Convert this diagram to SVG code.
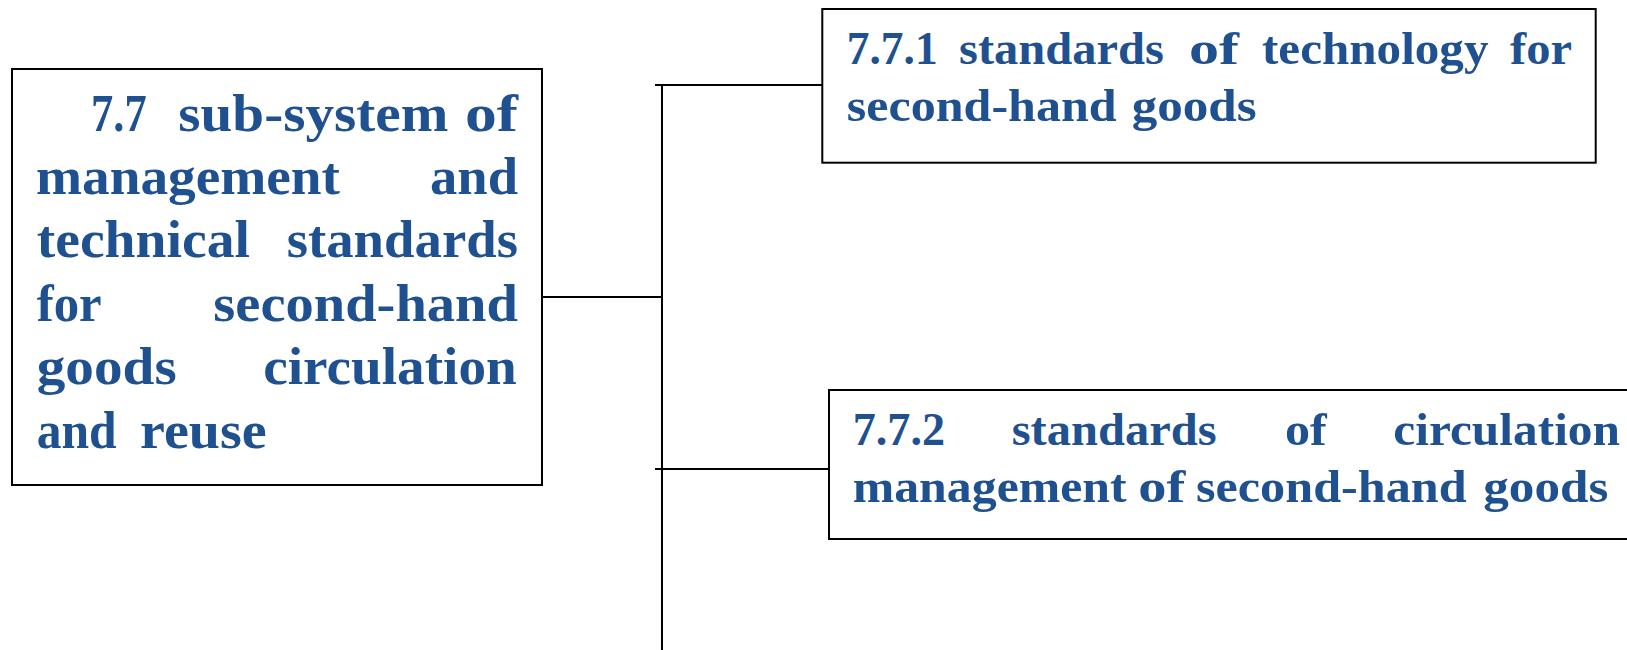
<svg xmlns="http://www.w3.org/2000/svg" width="1627" height="650" viewBox="0 0 1627 650">
<style>
.box{fill:#ffffff;stroke:#000000;stroke-width:2}
.ln{stroke:#000000;stroke-width:2;fill:none}
.t{font-family:"Liberation Serif","Times New Roman",serif;font-weight:bold;fill:#1f5190}
.big{font-size:52px}
.sm{font-size:47px}
</style>
<rect width="1627" height="650" fill="#ffffff"/>
<g id="connectors">
<line class="ln" x1="662" y1="85" x2="662" y2="650"/>
<line class="ln" x1="655" y1="85" x2="822" y2="85"/>
<line class="ln" x1="538" y1="297" x2="662" y2="297"/>
<line class="ln" x1="655" y1="469" x2="829" y2="469"/>
</g>
<g id="node-7-7">
<rect class="box" x="12" y="69" width="530" height="416"/>
<g class="t big">
<text x="91" y="130.6" textLength="55.7" lengthAdjust="spacingAndGlyphs">7.7</text>
<text x="178.3" y="130.6" textLength="270" lengthAdjust="spacingAndGlyphs">sub-system</text>
<text x="465" y="130.6" textLength="53" lengthAdjust="spacingAndGlyphs">of</text>
<text x="36" y="194" textLength="304" lengthAdjust="spacingAndGlyphs">management</text>
<text x="430" y="194" textLength="88" lengthAdjust="spacingAndGlyphs">and</text>
<text x="36.7" y="257.4" textLength="213.3" lengthAdjust="spacingAndGlyphs">technical</text>
<text x="286.7" y="257.4" textLength="231.3" lengthAdjust="spacingAndGlyphs">standards</text>
<text x="36.7" y="320.8" textLength="65" lengthAdjust="spacingAndGlyphs">for</text>
<text x="213.3" y="320.8" textLength="304.7" lengthAdjust="spacingAndGlyphs">second-hand</text>
<text x="36.7" y="384.2" textLength="140" lengthAdjust="spacingAndGlyphs">goods</text>
<text x="263.3" y="384.2" textLength="253.4" lengthAdjust="spacingAndGlyphs">circulation</text>
<text x="36.7" y="447.6" textLength="80" lengthAdjust="spacingAndGlyphs">and</text>
<text x="140" y="447.6" textLength="126.7" lengthAdjust="spacingAndGlyphs">reuse</text>
</g>
</g>
<g id="node-7-7-1">
<rect class="box" x="822.3" y="9" width="773.4" height="153.7"/>
<g class="t sm">
<text x="846.7" y="64.3" textLength="91" lengthAdjust="spacingAndGlyphs">7.7.1</text>
<text x="959" y="64.3" textLength="205" lengthAdjust="spacingAndGlyphs">standards</text>
<text x="1189" y="64.3" textLength="50" lengthAdjust="spacingAndGlyphs">of</text>
<text x="1262" y="64.3" textLength="226.5" lengthAdjust="spacingAndGlyphs">technology</text>
<text x="1510" y="64.3" textLength="62" lengthAdjust="spacingAndGlyphs">for</text>
<text x="846.7" y="120.7" textLength="270" lengthAdjust="spacingAndGlyphs">second-hand</text>
<text x="1131.7" y="120.7" textLength="125" lengthAdjust="spacingAndGlyphs">goods</text>
</g>
</g>
<g id="node-7-7-2">
<rect class="box" x="829" y="390" width="820" height="149"/>
<g class="t sm">
<text x="852.7" y="445" textLength="92.3" lengthAdjust="spacingAndGlyphs">7.7.2</text>
<text x="1011.7" y="445" textLength="205" lengthAdjust="spacingAndGlyphs">standards</text>
<text x="1285" y="445" textLength="41.7" lengthAdjust="spacingAndGlyphs">of</text>
<text x="1393.3" y="445" textLength="226.7" lengthAdjust="spacingAndGlyphs">circulation</text>
<text x="852.7" y="501.7" textLength="274" lengthAdjust="spacingAndGlyphs">management</text>
<text x="1138.3" y="501.7" textLength="47" lengthAdjust="spacingAndGlyphs">of</text>
<text x="1196" y="501.7" textLength="270.7" lengthAdjust="spacingAndGlyphs">second-hand</text>
<text x="1483.3" y="501.7" textLength="125" lengthAdjust="spacingAndGlyphs">goods</text>
</g>
</g>
</svg>
